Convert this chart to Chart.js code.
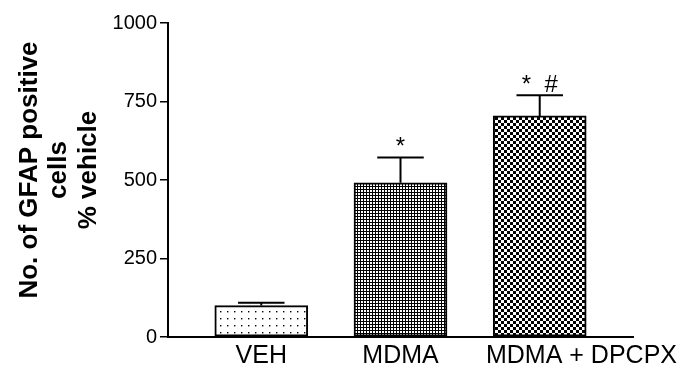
<!DOCTYPE html>
<html>
<head>
<meta charset="utf-8">
<script src="https://cdn.jsdelivr.net/npm/chart.js@4/dist/chart.umd.min.js"></script>
<style>
html,body{margin:0;padding:0;background:#fff;}
#wrap{width:698px;height:368px;position:relative;}
</style>
</head>
<body>
<div id="wrap"><canvas id="c" width="698" height="368"></canvas></div>
<script>
const categories = ['VEH', 'MDMA', 'MDMA + DPCPX'];
const positions = [1, 2, 3];
const labelAt = [1, 2, 3.3];
const means = [100, 491, 704];
const sems = [9, 81, 66];
const marks = ['', '*', '*  #'];
const yTicks = [0, 250, 500, 750, 1000];
const yTitle = ['No. of GFAP positive', 'cells', '% vehicle'];

function makePattern(kind) {
  const c = document.createElement('canvas');
  const ctx = c.getContext('2d');
  if (kind === 'sparse') {
    c.width = 7; c.height = 7;
    ctx.fillStyle = '#fff'; ctx.fillRect(0, 0, 7, 7);
    ctx.fillStyle = '#000'; ctx.fillRect(3, 3, 1.4, 1.4);
  } else if (kind === 'grid') {
    c.width = 3; c.height = 3;
    ctx.fillStyle = '#000'; ctx.fillRect(0, 0, 3, 3);
    ctx.fillStyle = '#fff'; ctx.fillRect(1, 1, 2, 2);
  } else {
    c.width = 6; c.height = 6;
    ctx.fillStyle = '#fff'; ctx.fillRect(0, 0, 6, 6);
    ctx.fillStyle = '#000'; ctx.fillRect(0, 0, 3, 3); ctx.fillRect(3, 3, 3, 3);
  }
  return document.getElementById('c').getContext('2d').createPattern(c, 'repeat');
}
const fills = [makePattern('sparse'), makePattern('grid'), makePattern('check')];

const errorBars = {
  id: 'errorBars',
  afterDatasetsDraw(chart) {
    const ctx = chart.ctx;
    const meta = chart.getDatasetMeta(0);
    const ys = chart.scales.y;
    ctx.save();
    ctx.strokeStyle = '#000';
    ctx.lineWidth = 2;
    meta.data.forEach((bar, i) => {
      const x = bar.x;
      const yb = ys.getPixelForValue(means[i]);
      const yt = ys.getPixelForValue(means[i] + sems[i]);
      const half = bar.width / 4;
      ctx.beginPath();
      ctx.moveTo(x, yb); ctx.lineTo(x, yt);
      ctx.moveTo(x - half, yt); ctx.lineTo(x + half, yt);
      ctx.stroke();
      if (marks[i]) {
        ctx.fillStyle = '#000';
        ctx.font = '24px "Liberation Sans", Arial, sans-serif';
        ctx.textAlign = 'center';
        ctx.textBaseline = 'alphabetic';
        ctx.fillText(marks[i], x, yt - 3);
      }
    });
    ctx.restore();
  }
};

// nudge the y-axis title slightly upward, as in the reference
const titleNudge = {
  id: 'titleNudge',
  afterLayout(chart) {
    const s = chart.scales.y;
    if (s._nudged) return;
    const orig = s.drawTitle;
    s.drawTitle = function () {
      this.ctx.save();
      this.ctx.translate(0, -10);
      orig.apply(this, arguments);
      this.ctx.restore();
    };
    s._nudged = true;
  }
};

new Chart(document.getElementById('c'), {
  type: 'bar',
  data: {
    datasets: [{
      data: positions.map((p, i) => ({x: p, y: means[i]})),
      backgroundColor: fills,
      borderColor: '#000',
      borderWidth: 2,
      borderSkipped: false,
      barThickness: 93
    }]
  },
  options: {
    responsive: false,
    animation: false,
    devicePixelRatio: 1,
    layout: {padding: {top: 23, right: 65, left: 0, bottom: 0}},
    plugins: {legend: {display: false}, tooltip: {enabled: false}},
    scales: {
      x: {
        type: 'linear',
        offset: false,
        bounds: 'data',
        min: 0.33,
        max: 3.67,
        afterBuildTicks(scale) { scale.ticks = labelAt.map(v => ({value: v})); },
        afterFit(scale) { scale.height = 31; },
        grid: {display: false, drawTicks: false, offset: false},
        border: {display: true, color: '#000', width: 2},
        ticks: {
          autoSkip: false, maxRotation: 0, minRotation: 0, padding: 4,
          color: '#000',
          font: {family: '"Liberation Sans", Arial, sans-serif', size: 25},
          callback: (v) => categories[labelAt.indexOf(v)] || ''
        }
      },
      y: {
        min: 0,
        max: 1000,
        afterBuildTicks(scale) { scale.ticks = yTicks.map(v => ({value: v})); },
        afterFit(scale) { scale.width = 168; },
        grid: {drawOnChartArea: false, drawTicks: true, tickLength: 8, color: '#000', lineWidth: 1.5},
        border: {display: true, color: '#000', width: 2},
        ticks: {
          color: '#000', padding: 3,
          font: {family: '"Liberation Sans", Arial, sans-serif', size: 20},
          callback: (v) => String(v)
        },
        title: {
          display: true,
          text: yTitle,
          color: '#000',
          padding: {top: 15, bottom: 0},
          font: {family: '"Liberation Sans", Arial, sans-serif', size: 26, weight: 'bold', lineHeight: 1.13}
        }
      }
    }
  },
  plugins: [errorBars, titleNudge]
});
</script>
</body>
</html>
